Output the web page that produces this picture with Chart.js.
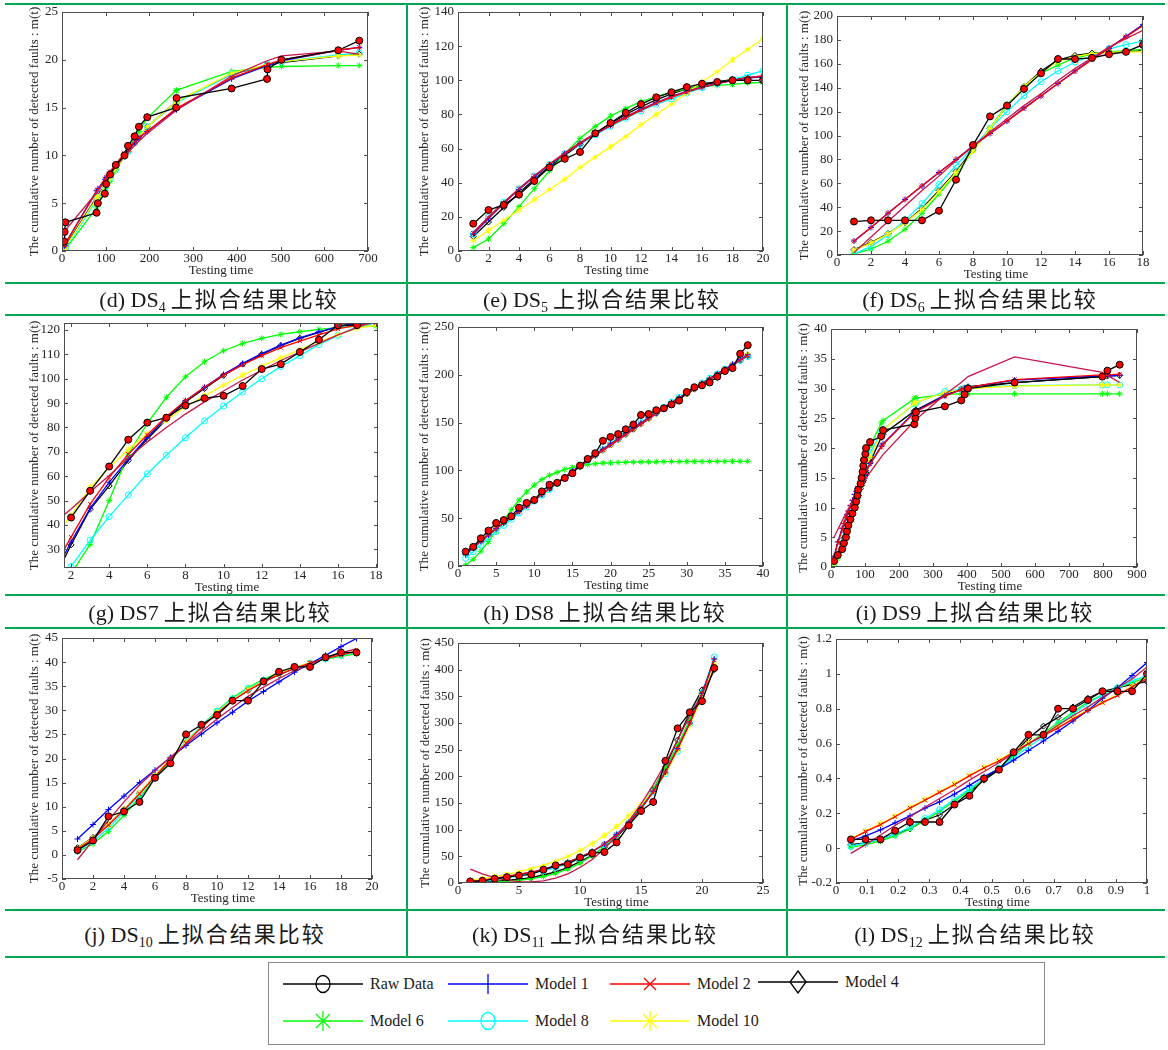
<!DOCTYPE html>
<html>
<head>
<meta charset="utf-8">
<script src="https://cdn.jsdelivr.net/npm/chart.js@4.4.1/dist/chart.umd.min.js"></script>
<style>
html,body{margin:0;padding:0;background:#fff}
body{width:1168px;height:1050px;position:relative;overflow:hidden;font-family:"Liberation Serif","Noto Sans CJK SC",serif;color:#1a1a1a}
.rule{position:absolute;background:#00a651;z-index:3}
canvas{position:absolute;z-index:1}
.cap{position:absolute;transform:translate(-50%,-50%);font-size:22px;white-space:nowrap;z-index:2;line-height:1}
.cap sub{font-size:14px;vertical-align:-5px;line-height:0}
.cap .zh{font-family:"Noto Sans CJK SC";font-size:22px;letter-spacing:2px;margin-left:5px}
#legendBox{position:absolute;left:268px;top:962px;width:777px;height:83px;border:1px solid #8a8a8a;box-sizing:border-box;z-index:2}
.lgText{position:absolute;font-size:16px;line-height:20px;white-space:nowrap;z-index:2}
.lgMark{position:absolute;z-index:2}
</style>
</head>
<body>
<div id="legendBox"></div>
<script>

// DS4
let ds4Time=[5,6,8,79,82,98,101,110,123,143,151,166,176,195,261,262,388,469,470,502,632,680]
let ds4Raw=[1,2,3,4,5,6,7,8,9,10,11,12,13,14,15,16,17,18,19,20,21,22]
let ds4M1=[0.5,0.6,0.8,6.3,6.5,7.5,7.7,8.2,9.0,10.1,10.5,11.3,11.8,12.5,14.8,14.8,18.0,19.4,19.4,19.9,21.0,21.3]
let ds4M2=[0.5,0.6,0.8,6.2,6.4,7.5,7.7,8.3,9.1,10.2,10.6,11.4,11.9,12.5,14.9,14.9,18.1,19.5,19.5,20.0,21.0,21.3]
let ds4M4=[0.3,0.4,0.5,5.6,5.8,6.9,7.1,7.7,8.6,9.9,10.4,11.3,11.9,13.0,15.6,15.6,18.5,19.4,19.4,19.7,20.4,20.6]
let ds4M6=[0.1,0.1,0.2,4.5,4.9,6.3,6.6,7.3,8.4,10.0,10.6,11.7,12.5,13.9,16.8,16.8,18.8,19.2,19.2,19.3,19.4,19.4]
let ds4M8=[0.1,0.2,0.3,5.3,5.6,6.7,7.0,7.6,8.6,9.9,10.4,11.3,11.9,13.0,15.5,15.5,18.5,19.5,19.5,19.8,20.5,20.7]
let ds4M10=[0.2,0.3,0.4,5.5,5.7,6.8,7.0,7.6,8.6,9.9,10.4,11.3,11.9,13.0,15.6,15.6,18.6,19.5,19.5,19.8,20.4,20.5]
let ds4M12=[2.0,2.1,2.2,6.1,6.3,7.3,7.5,8.0,8.8,9.9,10.3,11.0,11.5,12.3,14.7,14.7,18.3,19.9,19.9,20.4,20.9,20.6]
let ds4XTicks=[0,100,200,300,400,500,600,700]
let ds4YTicks=[0,5,10,15,20,25]

// DS5
let ds5Time=[1,2,3,4,5,6,7,8,9,10,11,12,13,14,15,16,17,18,19,20]
let ds5Raw=[16,24,27,33,41,49,54,58,69,75,81,86,90,93,96,98,99,100,100,100]
let ds5M1=[10,19,28,36,43.5,50.5,57,63,68.5,73.5,78.5,83,87,90.5,93.5,96,98,99.8,101.2,102.3]
let ds5M2=[10.5,19.5,28,36.5,44,51,57,63,68.5,73.5,78,82.5,86.5,90,93,95.8,98,100,101.5,102.5]
let ds5M4=[8.5,17,25.5,34,42,49.5,56,62.5,69,74.5,80,84.5,88.5,92,95,97,99,100.5,101.5,102]
let ds5M6=[2,7,16,26,36.5,47,57,66,73,79,83.5,87.5,90.5,93,95,96.5,97,97.6,98.4,98.8]
let ds5M8=[10,20,28.7,36.5,44,50.6,57,62.5,68,73,77.7,82,86,89,92.5,95.5,98,100.5,103,105.6]
let ds5M10=[6,12,18,24,30,36,42,49,55,61,67,74,80,86,92.5,99,105,112,118,124.5]
let ds5M12=[11,20,28.5,36.5,44,51,57.5,63.5,69,74,78.8,83,87,90.5,93.5,96,98.2,100,101.5,102.5]
let ds5XTicks=[0,2,4,6,8,10,12,14,16,18,20]
let ds5YTicks=[0,20,40,60,80,100,120,140]

// DS6
let ds6Time=[1,2,3,4,5,6,7,8,9,10,11,12,13,14,15,16,17,18]
let ds6Raw=[28,29,29,29,29,37,63,92,116,125,139,152,164,164,165,168,170,176]
let ds6M1=[11.7,23,35,46.5,57.7,69,80,91.4,101.7,112,123,133,143.5,154,164,173,183,192.8]
let ds6M2=[11.5,23,35,46.5,58,69,80,91,101.5,112,122.5,133,143.5,153.5,163.5,173,182.5,192]
let ds6M4=[4.5,10.5,18,27,39,54,70,88,106,125,141,154,163,167,169,169.5,170,171]
let ds6M6=[1,5,11.5,21.5,35,51,68,87,106,126,140,152,159,165,168,170,171,172]
let ds6M8=[1,7,17,29,43,59,75,90,106,120,133.5,145,154,161.5,166.5,172.5,176,179]
let ds6M10=[4,10,17.5,27,38,53,69,87,106,125,141,153,162,166,168.5,169.5,170,170]
let ds6M12=[2,15,28,41,54,66,79,91,103,114,125,135,146,156,165,174,181,188]
let ds6XTicks=[0,2,4,6,8,10,12,14,16,18]
let ds6YTicks=[0,20,40,60,80,100,120,140,160,180,200]

// DS7
let ds7Time=[1,2,3,4,5,6,7,8,9,10,11,12,13,14,15,16,17,18]
let ds7Raw=[null,43,54,64,75,82,84,89,92,93,97,104,106,111,116,122,122,null]
let ds7M1=[18,33,46.8,57.5,67,76,84,91,96.5,101.8,106.3,110.3,113.8,116.8,119.3,121.4,123,124]
let ds7M2=[21,35,48.5,59.5,69,77,84.5,91,96.5,101.5,105.8,109.5,112.8,115.5,118,120.5,122,123]
let ds7M4=[16,31.8,46.4,56,66.4,75.3,83.3,90.5,96,101.4,106,110,113.6,116.6,119,121.4,122.5,123.5]
let ds7M6=[8,20,32,50,69,81.7,92.4,100.8,107,111.5,114.5,116.6,118.2,119.3,120.3,121,121.6,121.6]
let ds7M8=[11,22.9,33.7,43.4,52.3,61,68.6,75.8,82.7,88.8,94.6,100,105,109.5,114,117.8,121.4,123]
let ds7M10=[33,44,55.5,63.5,71,77.6,83,88.5,93,97.4,101.5,105.2,108.6,112,115.2,118,120.7,122]
let ds7M12=[40,46.5,53.5,60.3,67.5,74,80,85.5,90.5,95,99.5,103.5,107.5,111,114.5,118,121,124]
let ds7XTicks=[2,4,6,8,10,12,14,16,18]
let ds7YTicks=[30,40,50,60,70,80,90,100,110,120]
let ds7XRange=[1.63,18.1]
let ds7YRange=[22.3,122.9]

// DS8
let ds8Time=[1,2,3,4,5,6,7,8,9,10,11,12,13,14,15,16,17,18,19,20,21,22,23,24,25,26,27,28,29,30,31,32,33,34,35,36,37,38]
let ds8Raw=[15,20,29,37,45,48,52,61,66,69,78,85,87,92,97,105,112,118,131,135,138,143,148,158,159,163,165,169,173,182,187,189,192,198,204,207,222,231]
let ds8M1=[12,19,26,32.5,39,45,51,57,63,69,75,81,87,93,99,105,110.5,116,122,127.5,133,138.5,144,149.5,155,160,165.5,171,176,181,186,191,196,201,206,211,216,221]
let ds8M2=[13,19.5,26,32.5,39,45,51,57,63,69,75,81,87,93,98.5,104.5,110,116,121.5,127,132.5,138,143.5,149,154.5,160,165,170.5,175.5,180.5,185.5,190.5,195.5,200.5,205.5,210.5,215.5,220]
let ds8M4=[14,20.5,27,33.5,39.5,45.5,51.5,57.5,63.5,69.5,75,81,87,92.5,98.5,104,110,115.5,121,126.5,132,137.5,143,148.5,154,159.5,164.5,170,175,180,185,190,195,200,205,210,215,220]
let ds8M6=[1,7,15.5,25.5,37,48,59,69,77.5,84.5,90.5,95,98,101,103,105,106,107,107.6,108,108.3,108.5,108.7,108.9,109,109,109.1,109.2,109.2,109.3,109.3,109.3,109.4,109.4,109.4,109.5,109.5,109.5]
let ds8M8=[8,15,22,29.5,36,42.5,49,55.5,61.5,68,74,80,86.5,92.5,98.5,104.5,110.5,116.5,122,128,133.5,139,144.5,150,155.5,161,166,171.5,176.5,181.5,186.5,191.5,196.5,201,206,210.5,215,219]
let ds8M10=[14,21,27.5,34,40,46,52,58,63.5,69.5,75.5,81,87,92.5,98.5,104,110,115.5,121,126.5,132,137.5,143,148.5,154,159.5,164.5,170,175,180.5,185.5,190.5,195.5,200.5,205.5,211,216,222]
let ds8M12=[14,20.5,27,33,39.5,45.5,51.5,57.5,63.5,69,75,81,86.5,92.5,98,104,109.5,115,120.5,126,131.5,137,142.5,148,153.5,159,164,169.5,174.5,180,185,190,195,200,205,210,215,220]
let ds8XTicks=[0,5,10,15,20,25,30,35,40]
let ds8YTicks=[0,50,100,150,200,250]

// DS9
let ds9Time=[9,20,33,38,44,47,51,57,63,70,74,78,80,87,90,93,95,97,101,103,115,148,153,245,248,250,335,383,393,403,540,798,813,849]
let ds9Raw=[1,2,3,4,5,6,7,8,9,10,11,12,13,14,15,16,17,18,19,20,21,22,23,24,25,26,27,28,29,30,31,32,33,34]
let ds9M1=[1.8,4.2,6.5,7.3,8.3,8.8,9.4,10.3,11.2,12.2,12.7,13.2,13.5,14.3,14.7,15.1,15.3,15.5,16,16.2,17.4,20.3,20.7,26,26.1,26.2,28.8,29.8,30,30.2,31.4,32.1,32.1,32.2]
let ds9M2=[1.6,4.0,6.3,7.1,8.1,8.6,9.2,10.1,11.0,12.0,12.5,13.0,13.3,14.1,14.5,14.9,15.1,15.4,15.9,16.1,17.3,20.2,20.6,25.9,26,26.1,28.7,29.8,30,30.2,31.5,32.3,32.3,32.4]
let ds9M4=[0.8,2.2,4.0,4.8,5.8,6.3,7.0,8.0,9.1,10.3,11,11.7,12,13.2,13.7,14.2,14.5,14.9,15.5,15.8,17.6,21.8,22.3,26.2,26.3,26.4,28.9,29.9,30.1,30.3,31,32,32.1,32.2]
let ds9M6=[0.3,1.4,3.2,4.1,5.2,5.8,6.6,7.9,9.2,10.8,11.7,12.6,13.1,14.6,15.3,15.9,16.3,16.7,17.5,17.9,20.4,24.2,24.6,28.3,28.3,28.4,29,29.1,29.1,29.1,29.1,29.1,29.1,29.1]
let ds9M8=[0.5,1.8,3.6,4.4,5.5,6.0,6.8,8.0,9.2,10.6,11.4,12.2,12.6,14,14.6,15.2,15.6,16,16.7,17.1,19.2,22.6,23.1,27.4,27.5,27.6,29.5,29.9,30,30.1,30.5,30.6,30.6,30.6]
let ds9M10=[0.4,1.5,3.3,4.1,5.1,5.7,6.4,7.6,8.8,10.2,11,11.8,12.2,13.6,14.2,14.8,15.2,15.6,16.3,16.7,18.5,22.5,23,27.5,27.6,27.7,29.3,29.8,29.9,30,30.4,30.6,30.6,30.6]
let ds9M12=[5,6.3,7.8,8.3,9,9.3,9.8,10.4,11,11.7,12.1,12.5,12.7,13.3,13.6,13.9,14.1,14.3,14.7,14.9,15.9,18.5,18.9,24.5,24.7,24.8,29,31,31.5,32,35.3,32.7,32.2,31]
let ds9XTicks=[0,100,200,300,400,500,600,700,800,900]
let ds9YTicks=[0,5,10,15,20,25,30,35,40]

// DS10
let ds10Time=[1,2,3,4,5,6,7,8,9,10,11,12,13,14,15,16,17,18,19]
let ds10Raw=[1,3,8,9,11,16,19,25,27,29,32,32,36,38,39,39,41,42,42]
let ds10M1=[3.3,6.3,9.4,12.2,15,17.6,20.2,22.7,25.1,27.4,29.6,31.9,33.9,35.9,37.9,39.7,41.4,43.2,44.9]
let ds10M2=[1.2,3.3,6.2,9.3,12.7,16.3,19.8,23.2,26.5,29.4,32.0,34.1,35.9,37.4,38.7,39.8,40.7,41.5,42.2]
let ds10M4=[1.5,3.6,6.3,9.4,12.8,16.4,19.9,23.3,26.5,29.4,32.0,34.1,35.9,37.4,38.7,39.8,40.8,41.6,42.3]
let ds10M6=[0.6,2.3,4.9,8.2,11.9,15.8,19.6,23.3,26.8,29.9,32.6,34.7,36.4,37.8,38.9,39.8,40.6,41.2,41.7]
let ds10M8=[0.8,2.8,5.6,8.9,12.5,16.3,20,23.5,26.8,29.8,32.4,34.5,36.2,37.6,38.8,39.8,40.7,41.4,42]
let ds10M10=[1.4,3.5,6.3,9.4,12.9,16.5,20,23.4,26.6,29.6,32.2,34.3,36.1,37.6,38.8,39.9,40.8,41.6,42.3]
let ds10M12=[-1,3,7.2,11,14.5,17.5,20.3,23,25.6,28.2,30.6,32.9,34.8,36.6,38.2,39.6,40.8,41.9,42.8]
let ds10XTicks=[0,2,4,6,8,10,12,14,16,18,20]
let ds10YTicks=[-5,0,5,10,15,20,25,30,35,40,45]

// DS11
let ds11Time=[1,2,3,4,5,6,7,8,9,10,11,12,13,14,15,16,17,18,19,20,21]
let ds11Raw=[3,4,8,11,14,16,25,33,35,48,56,58,76,108,135,152,229,290,320,341,403]
let ds11M1=[2,5,8,12,16,20,25,31,39,48,59,73,91,113,140,172,208,252,300,355,420]
let ds11M2=[2.5,5.5,8.5,12.5,16.5,20.5,25.5,31.5,39,48,59,73,90,112,139,171,208,252,300,354,418]
let ds11M4=[1,1.5,3,5,7,10,15,21,29,40,52,67,86,110,140,175,218,268,320,362,400]
let ds11M6=[0,0.5,1.5,3,5,8,12,18,26,37,51,68,89,114,143,176,215,258,307,358,405]
let ds11M8=[1,3,6,9.5,13.5,18,23,29,37,46,58,72,90,112,139,170,205,247,298,356,424]
let ds11M10=[5,8,12,16,21,27,33,41,50,61,74,89,106,126,147,172,205,248,296,350,410]
let ds11M12=[26,17,10,5,2.5,2,4,9,17,29,44,64,88,116,148,184,224,268,314,354,398]
let ds11XTicks=[0,5,10,15,20,25]
let ds11YTicks=[0,50,100,150,200,250,300,350,400,450]

// DS12
let ds12Time=[0.048,0.095,0.143,0.19,0.238,0.286,0.333,0.381,0.429,0.476,0.524,0.571,0.619,0.667,0.714,0.762,0.81,0.857,0.905,0.952,1]
let ds12Raw=[0.05,0.05,0.05,0.1,0.15,0.15,0.15,0.25,0.3,0.4,0.45,0.55,0.65,0.65,0.8,0.8,0.85,0.9,0.9,0.9,1]
let ds12M1=[0.04,0.07,0.105,0.145,0.185,0.23,0.265,0.31,0.36,0.41,0.455,0.505,0.56,0.615,0.67,0.73,0.79,0.86,0.92,0.99,1.065]
let ds12M2=[0.05,0.095,0.135,0.18,0.23,0.275,0.32,0.365,0.415,0.46,0.5,0.55,0.6,0.645,0.69,0.74,0.79,0.835,0.875,0.925,0.975]
let ds12M4=[0.02,0.03,0.05,0.08,0.11,0.16,0.19,0.25,0.32,0.39,0.45,0.54,0.63,0.7,0.75,0.81,0.86,0.9,0.92,0.94,0.955]
let ds12M6=[0.005,0.02,0.04,0.07,0.11,0.16,0.21,0.27,0.33,0.4,0.46,0.53,0.6,0.66,0.72,0.78,0.84,0.88,0.92,0.95,0.98]
let ds12M8=[0.01,0.03,0.05,0.08,0.12,0.17,0.22,0.28,0.34,0.4,0.46,0.52,0.58,0.64,0.71,0.77,0.83,0.88,0.92,0.96,0.99]
let ds12M10=[0.055,0.1,0.14,0.185,0.235,0.28,0.325,0.37,0.42,0.465,0.505,0.555,0.605,0.65,0.695,0.745,0.795,0.84,0.88,0.93,0.98]
let ds12M12=[-0.03,0.02,0.075,0.13,0.18,0.235,0.285,0.335,0.39,0.44,0.49,0.545,0.6,0.65,0.705,0.76,0.81,0.865,0.92,0.97,1.04]
let ds12XTicks=[0,0.1,0.2,0.3,0.4,0.5,0.6,0.7,0.8,0.9,1]
let ds12YTicks=[-0.2,0,0.2,0.4,0.6,0.8,1,1.2]

let seriesNames=['Raw Data','Model 1','Model 2','Model 4','Model 6','Model 8','Model 10']
let captionTags=['(d)','(e)','(f)','(g)','(h)','(i)','(j)','(k)','(l)']
let captionSets=['4','5','6','7','8','9','10','11','12']
let captionSub=[true,true,true,false,false,false,true,true,true]

// raw, M1, M2, M4, M6, M8, M10, extra curve
let looks=[
{line:'#000000',pt:'circle',fill:'#ff0000',edge:'#000000',r:3.5,order:0},
{line:'#0000ff',pt:'cross',fill:'#0000ff',edge:'#0000ff',r:3,order:3},
{line:'#ff0000',pt:'crossRot',fill:'#ff0000',edge:'#ff0000',r:3,order:2},
{line:'#000000',pt:'rectRot',fill:'rgba(0,0,0,0)',edge:'#000000',r:3,order:7},
{line:'#00ff00',pt:'star',fill:'#00ff00',edge:'#00ff00',r:3,order:6},
{line:'#00ffff',pt:'circle',fill:'rgba(0,0,0,0)',edge:'#00ffff',r:3,order:5},
{line:'#ffff00',pt:'star',fill:'#ffff00',edge:'#ffff00',r:3,order:4},
{line:'#c8144b',pt:'circle',fill:'#c8144b',edge:'#c8144b',r:0,order:1}
]

let panels=[
{area:[62,12,368,251],tx:27,cap:[219,298],time:ds4Time,sets:[ds4Raw,ds4M1,ds4M2,ds4M4,ds4M6,ds4M8,ds4M10,ds4M12],xt:ds4XTicks,yt:ds4YTicks},
{area:[458,12,763,251],tx:33,cap:[602,298],time:ds5Time,sets:[ds5Raw,ds5M1,ds5M2,ds5M4,ds5M6,ds5M8,ds5M10,ds5M12],xt:ds5XTicks,yt:ds5YTicks},
{area:[837,16,1143,255],tx:32,cap:[980,298],time:ds6Time,sets:[ds6Raw,ds6M1,ds6M2,ds6M4,ds6M6,ds6M8,ds6M10,ds6M12],xt:ds6XTicks,yt:ds6YTicks},
{area:[64,323,378,568],tx:29,cap:[210,611],time:ds7Time,sets:[ds7Raw,ds7M1,ds7M2,ds7M4,ds7M6,ds7M8,ds7M10,ds7M12],xt:ds7XTicks,yt:ds7YTicks,xr:ds7XRange,yr:ds7YRange},
{area:[458,327,763,566],tx:33,cap:[605,611],time:ds8Time,sets:[ds8Raw,ds8M1,ds8M2,ds8M4,ds8M6,ds8M8,ds8M10,ds8M12],xt:ds8XTicks,yt:ds8YTicks},
{area:[831,329,1137,567],tx:27,cap:[975,611],time:ds9Time,sets:[ds9Raw,ds9M1,ds9M2,ds9M4,ds9M6,ds9M8,ds9M10,ds9M12],xt:ds9XTicks,yt:ds9YTicks},
{area:[62,638,372,879],tx:27,cap:[205,933],time:ds10Time,sets:[ds10Raw,ds10M1,ds10M2,ds10M4,ds10M6,ds10M8,ds10M10,ds10M12],xt:ds10XTicks,yt:ds10YTicks},
{area:[458,643,763,883],tx:32,cap:[595,933],time:ds11Time,sets:[ds11Raw,ds11M1,ds11M2,ds11M4,ds11M6,ds11M8,ds11M10,ds11M12],xt:ds11XTicks,yt:ds11YTicks},
{area:[836,639,1147,883],tx:32,cap:[975,933],time:ds12Time,sets:[ds12Raw,ds12M1,ds12M2,ds12M4,ds12M6,ds12M8,ds12M10,ds12M12],xt:ds12XTicks,yt:ds12YTicks}
]

let tickFont={family:'Liberation Serif',size:13}

// matlab style box, inward ticks on all four sides, axis titles
let boxDeco={
id:'boxDeco',
afterDraw(chart,args,opts){
let ctx=chart.ctx
let a=chart.chartArea
let sx=chart.scales.x
let sy=chart.scales.y
ctx.save()
ctx.strokeStyle='#4d4d4d'
ctx.lineWidth=1
ctx.strokeRect(a.left+.5,a.top+.5,a.right-a.left-1,a.bottom-a.top-1)
ctx.beginPath()
sx.ticks.forEach(t=>{
let p=Math.round(sx.getPixelForValue(t.value))+.5
ctx.moveTo(p,a.bottom);ctx.lineTo(p,a.bottom-4)
ctx.moveTo(p,a.top);ctx.lineTo(p,a.top+4)
})
sy.ticks.forEach(t=>{
let p=Math.round(sy.getPixelForValue(t.value))+.5
ctx.moveTo(a.left,p);ctx.lineTo(a.left+4,p)
ctx.moveTo(a.right,p);ctx.lineTo(a.right-4,p)
})
ctx.stroke()
ctx.fillStyle='#262626'
ctx.font='13px "Liberation Serif"'
ctx.textAlign='center'
ctx.textBaseline='middle'
ctx.fillText('Testing time',(a.left+a.right)/2+6,a.bottom+20)
ctx.translate(a.left-opts.tx,(a.top+a.bottom)/2)
ctx.rotate(-Math.PI/2)
ctx.fillText('The cumulative number of detected faults : m(t)',0,0)
ctx.restore()
}
}

panels.forEach((p,k)=>{

let[L,T,R,B]=p.area
let cv=document.createElement('canvas')
cv.width=R+30-(L-62)
cv.height=B+30-(T-12)
cv.style.left=(L-62)+'px'
cv.style.top=(T-12)+'px'
document.body.appendChild(cv)

let datasets=p.sets.map((vals,i)=>{
let lk=looks[i]
return{
label:i<seriesNames.length?seriesNames[i]:'',
data:p.time.map((t,j)=>({x:t,y:vals[j]})),
showLine:true,
borderColor:lk.line,
borderWidth:1.3,
backgroundColor:lk.fill,
pointStyle:lk.pt,
pointRadius:lk.r,
pointBackgroundColor:lk.fill,
pointBorderColor:lk.edge,
pointBorderWidth:1,
tension:0,
order:lk.order
}
})

let xr=p.xr||[p.xt[0],p.xt[p.xt.length-1]]
let yr=p.yr||[p.yt[0],p.yt[p.yt.length-1]]

new Chart(cv,{
type:'scatter',
data:{datasets:datasets},
options:{
responsive:false,
animation:false,
layout:{padding:{top:12,right:30,left:0,bottom:0}},
plugins:{legend:{display:false},tooltip:{enabled:false},boxDeco:{tx:p.tx}},
scales:{
x:{
type:'linear',
min:xr[0],
max:xr[1],
afterFit:s=>{s.height=30},
afterBuildTicks:s=>{s.ticks=p.xt.map(v=>({value:v}))},
grid:{display:false,drawTicks:false},
border:{display:false},
ticks:{color:'#262626',font:tickFont,padding:0,maxRotation:0,autoSkip:false,callback:v=>String(v)}
},
y:{
type:'linear',
min:yr[0],
max:yr[1],
afterFit:s=>{s.width=62},
afterBuildTicks:s=>{s.ticks=p.yt.map(v=>({value:v}))},
grid:{display:false,drawTicks:false},
border:{display:false},
ticks:{color:'#262626',font:tickFont,padding:4,autoSkip:false,callback:v=>String(v)}
}
}
},
plugins:[boxDeco]
})

let cap=document.createElement('div')
cap.className='cap'
cap.style.left=p.cap[0]+'px'
cap.style.top=p.cap[1]+'px'
cap.innerHTML=captionTags[k]+' DS'+(captionSub[k]?'<sub>'+captionSets[k]+'</sub>':captionSets[k])+'<span class="zh">上拟合结果比较</span>'
document.body.appendChild(cap)

})

// green table rules
let rulesH=[3,282,314,594,627,909,956]
let rulesV=[406,786]
rulesH.forEach(y=>{
let d=document.createElement('div')
d.className='rule'
d.style.cssText='left:5px;top:'+y+'px;width:1160px;height:2px'
document.body.appendChild(d)
})
rulesV.forEach(x=>{
let d=document.createElement('div')
d.className='rule'
d.style.cssText='left:'+x+'px;top:3px;width:2px;height:955px'
document.body.appendChild(d)
})

// legend
let legendSpots=[[283,984],[448,984],[610,984],[758,982],[283,1021],[448,1021],[610,1021]]
let legendMarks=['ring','plus','ex','diamond','aster','ring','aster']

function markSvg(kind,c){
let s=`stroke="${c}" stroke-width="1.3" fill="none"`
if(kind==='ring')return`<ellipse cx="40" cy="12" rx="7" ry="8.5" ${s}/>`
if(kind==='plus')return`<line x1="40" y1="2" x2="40" y2="22" ${s}/>`
if(kind==='ex')return`<line x1="34" y1="6" x2="46" y2="18" ${s}/><line x1="46" y1="6" x2="34" y2="18" ${s}/>`
if(kind==='diamond')return`<polygon points="40,1 48,12 40,23 32,12" ${s}/>`
return`<line x1="40" y1="2" x2="40" y2="22" ${s}/><line x1="33" y1="5" x2="47" y2="19" ${s}/><line x1="47" y1="5" x2="33" y2="19" ${s}/>`
}

seriesNames.forEach((name,i)=>{
let[x,y]=legendSpots[i]
let c=looks[i].line
let m=document.createElement('div')
m.className='lgMark'
m.style.left=x+'px'
m.style.top=(y-12)+'px'
m.innerHTML=`<svg width="80" height="24"><line x1="0" y1="12" x2="80" y2="12" stroke="${c}" stroke-width="1.3"/>${markSvg(legendMarks[i],c)}</svg>`
document.body.appendChild(m)
let t=document.createElement('div')
t.className='lgText'
t.style.left=(x+87)+'px'
t.style.top=(y-10)+'px'
t.textContent=name
document.body.appendChild(t)
})

</script>
</body>
</html>
